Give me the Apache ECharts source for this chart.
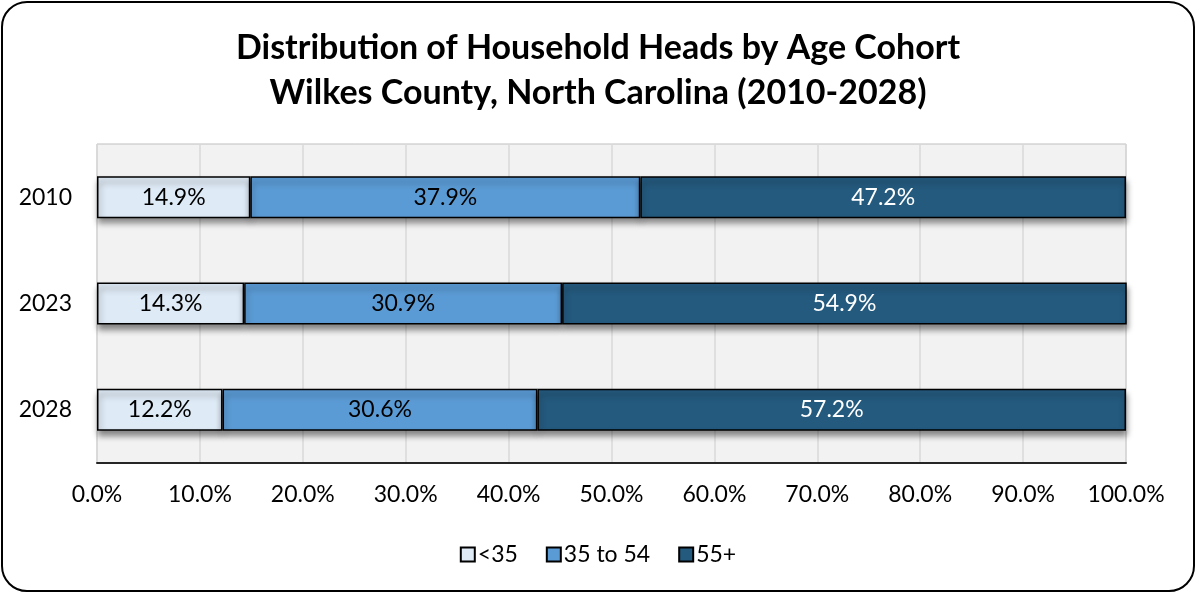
<!DOCTYPE html>
<html><head><meta charset="utf-8">
<script src="https://cdn.jsdelivr.net/npm/echarts@6/dist/echarts.min.js"></script>
<style>
html,body{margin:0;padding:0;background:#fff;}
#wrap{position:absolute;left:1px;top:1px;width:1190px;height:587px;border:2px solid #000;border-radius:26px;overflow:hidden;background:#fff;}
#c{width:1196px;height:593px;position:absolute;left:-3px;top:-3px;}
</style></head>
<body>
<div id="wrap"><div id="c"></div></div>
<script>
const years = ['2010', '2023', '2028'];
const under35 = [14.9, 14.3, 12.2];
const age35to54 = [37.9, 30.9, 30.6];
const age55plus = [47.2, 54.9, 57.2];
const xTicks = [0, 10, 20, 30, 40, 50, 60, 70, 80, 90, 100];

const font = 'Lato, "Open Sans", sans-serif';
const chart = echarts.init(document.getElementById('c'), null, {renderer: 'canvas'});
function mk(name, data, color, txt) {
  return {
    name, type: 'bar', stack: 'a', data, barWidth: 42,
    itemStyle: {color, borderColor: '#000', borderWidth: 1.5,
      shadowBlur: 6, shadowOffsetY: 5, shadowOffsetX: 1, shadowColor: 'rgba(0,0,0,0.45)'},
    label: {show: true, position: 'inside', color: txt, fontSize: 23, fontFamily: font,
      formatter: p => p.value.toFixed(1) + '%'}
  };
}
chart.setOption({
  animation: false,
  title: {text: 'Distribution of Household Heads by Age Cohort\nWilkes County, North Carolina (2010-2028)',
    left: 'center', top: 21, textStyle: {fontFamily: font, fontSize: 34, fontWeight: 'bold', color: '#000', lineHeight: 45}},
  legend: {bottom: 22, left: 'center', itemWidth: 14, itemHeight: 14, itemGap: 28,
    icon: 'rect', textStyle: {fontFamily: font, fontSize: 23, color: '#000', padding: [0,0,0,-2]}},
  grid: {left: 97, right: 70, top: 144, bottom: 130, show: true, backgroundColor: '#f2f2f2', borderColor: '#bfbfbf', borderWidth: 1},
  xAxis: {type: 'value', min: 0, max: 100, interval: 10,
    axisLine: {show: true, lineStyle: {color: '#262626', width: 2}},
    axisTick: {show: false},
    splitLine: {show: true, lineStyle: {color: '#d9d9d9', width: 1.5}},
    axisLabel: {fontFamily: font, fontSize: 23, color: '#000', margin: 20,
      formatter: v => xTicks.includes(v) ? v.toFixed(1) + '%' : ''}},
  yAxis: {type: 'category', data: years, inverse: true,
    axisLine: {show: false}, axisTick: {show: false},
    axisLabel: {fontFamily: font, fontSize: 23, color: '#000', margin: 25}},
  series: [
    mk('<35', under35, '#deeaf6', '#000'),
    mk('35 to 54', age35to54, '#5b9bd5', '#000'),
    mk('55+', age55plus, '#245a7e', '#fff')
  ]
});
</script>
</body></html>
